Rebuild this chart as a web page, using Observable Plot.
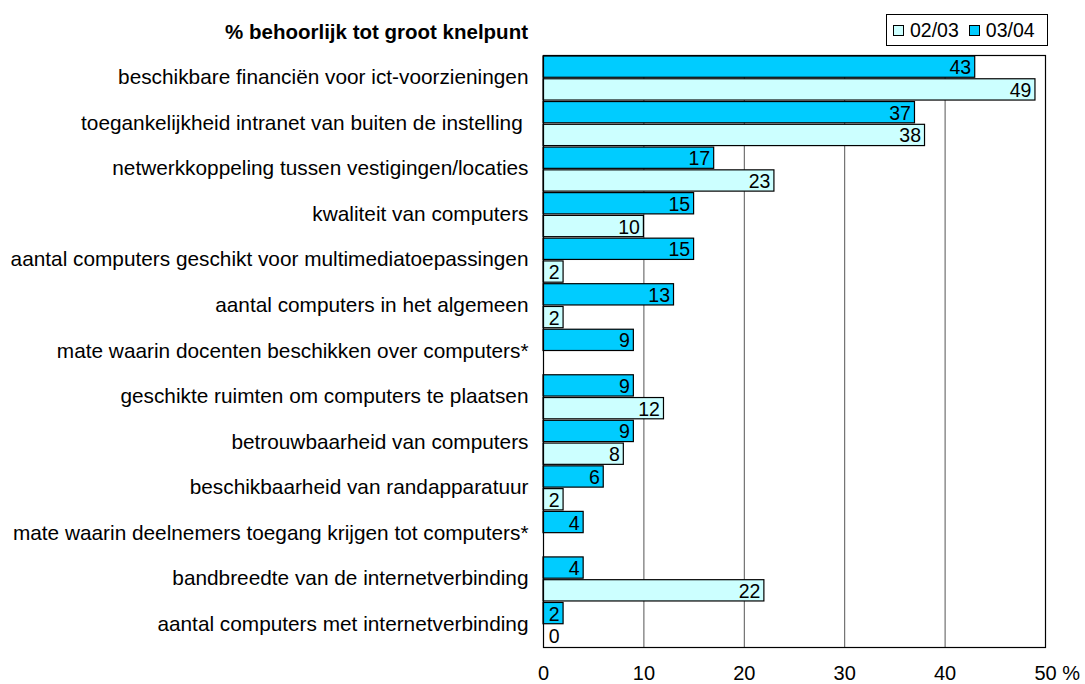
<!DOCTYPE html>
<html><head><meta charset="utf-8">
<script src="https://cdn.jsdelivr.net/npm/d3@7"></script>
<script src="https://cdn.jsdelivr.net/npm/@observablehq/plot@0.6"></script>
<style>
body{margin:0;background:#fff;font-family:"Liberation Sans",Arial,sans-serif;}
#wrap{position:relative;width:1085px;height:684px;}
#title{position:absolute;right:557px;top:20px;font-weight:bold;font-size:20.5px;line-height:24px;white-space:nowrap;}
#legend{position:absolute;left:886px;top:14px;width:162px;height:32px;border:1px solid #000;box-sizing:border-box;font-size:19.5px;display:flex;align-items:center;padding-left:6px;}
.sw{display:inline-block;width:9px;height:9px;border:1px solid #000;margin-right:6px;}
#chart{position:absolute;left:0;top:0;}
</style></head>
<body><div id="wrap"><div id="chart"></div><div id="title">% behoorlijk tot groot knelpunt</div>
<div id="legend"></div></div>
<script>
const categories = [
  "beschikbare financiën voor ict-voorzieningen",
  "toegankelijkheid intranet van buiten de instelling\u00a0",
  "netwerkkoppeling tussen vestigingen/locaties",
  "kwaliteit van computers",
  "aantal computers geschikt voor multimediatoepassingen",
  "aantal computers in het algemeen",
  "mate waarin docenten beschikken over computers*",
  "geschikte ruimten om computers te plaatsen",
  "betrouwbaarheid van computers",
  "beschikbaarheid van randapparatuur",
  "mate waarin deelnemers toegang krijgen tot computers*",
  "bandbreedte van de internetverbinding",
  "aantal computers met internetverbinding"
];
const v0203 = [49, 38, 23, 10, 2, 2, null, 12, 8, 2, null, 22, 0];
const v0304 = [43, 37, 17, 15, 15, 13, 9, 9, 9, 6, 4, 4, 2];
const seriesNames = ["02/03", "03/04"];
const seriesColors = ["#CCFFFF", "#00CCFF"];
const xTicks = [0, 10, 20, 30, 40];
const xLastTick = [50];
const gridTicks = [10, 20, 30, 40];

const data = categories.flatMap((c, i) => [
  {cat: c, s: "03/04", v: v0304[i]},
  {cat: c, s: "02/03", v: v0203[i]}
]).filter(d => d.v != null);
const key = d => d.cat + "|" + d.s;
const yDomain = categories.flatMap(c => [c + "|03/04", c + "|02/03"]);

const chart = Plot.plot({
  width: 1085, height: 684,
  marginLeft: 543, marginRight: 40, marginTop: 55, marginBottom: 37,
  style: {fontFamily: '"Liberation Sans", Arial, sans-serif', fontSize: "20px", background: "#fff"},
  x: {domain: [0, 50], axis: null},
  y: {domain: yDomain, padding: 0, round: false, axis: null},
  color: {domain: seriesNames, range: seriesColors},
  marks: [
    Plot.ruleX(gridTicks, {x: d => d, stroke: "#555", strokeWidth: 1}),
    Plot.barX(data, {y: key, x: "v", fill: "s", stroke: "#000", strokeWidth: 1.2, insetTop: 1, insetBottom: 0.5}),
    Plot.text(data, {y: key, x: d => Math.max(d.v, 2), text: d => String(d.v), textAnchor: "end", dx: -4, dy: 1, fontSize: 19.5, fill: "#000"}),
    Plot.text(categories, {y: c => c + "|02/03", frameAnchor: "left", text: d => d, textAnchor: "end", dx: -15, dy: -12, fontSize: 20.8, fill: "#000"}),
    Plot.text(xTicks, {x: d => d, frameAnchor: "bottom", lineAnchor: "middle", text: d => String(d), textAnchor: "middle", dy: 26, fontSize: 20, fill: "#000"}),
    Plot.text(xLastTick, {x: d => d, frameAnchor: "bottom", lineAnchor: "middle", text: d => d + " %", textAnchor: "start", dx: -11, dy: 26, fontSize: 20, fill: "#000"}),
    Plot.frame({stroke: "#000", strokeWidth: 1.2})
  ]
});
document.getElementById("chart").appendChild(chart);

const lg = document.getElementById("legend");
seriesNames.forEach((n, i) => {
  const sw = document.createElement("span"); sw.className = "sw"; sw.style.background = seriesColors[i];
  const t = document.createElement("span"); t.textContent = n; t.style.marginRight = "10px";
  lg.appendChild(sw); lg.appendChild(t);
});
</script></body></html>
